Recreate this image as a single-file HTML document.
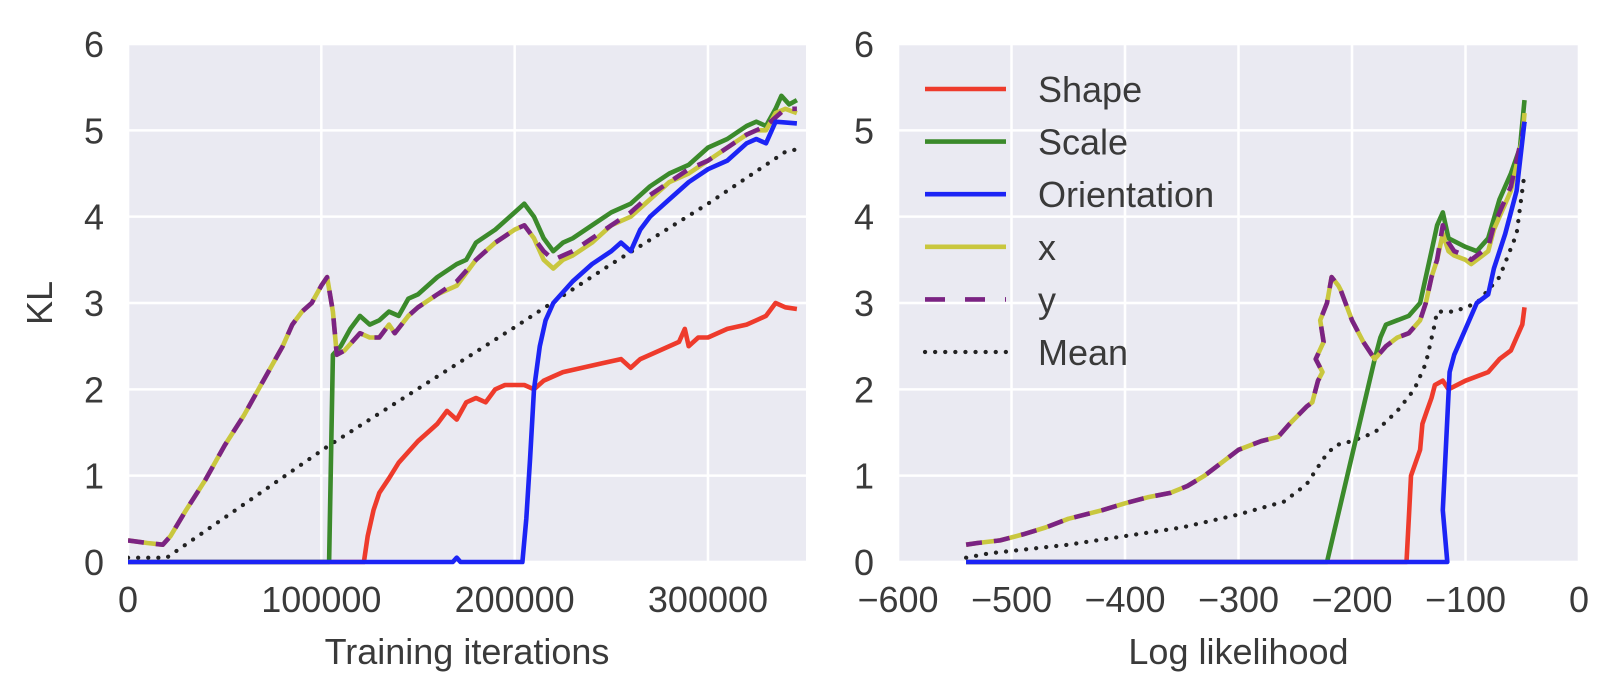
<!DOCTYPE html>
<html><head><meta charset="utf-8"><style>
html,body{margin:0;padding:0;background:#fff;}
svg{display:block;font-family:"Liberation Sans","DejaVu Sans",sans-serif;}
</style></head><body>
<svg id="chart" width="1610" height="680" viewBox="0 0 1610 680"></svg>
<script>
// ---- Left panel data (x in iterations) ----
const L_shape_x=[0,122000,124000,127000,130000,135000,140000,150000,155000,160000,165000,170000,175000,180000,185000,190000,195000,205000,210000,215000,220000,225000,235000,245000,255000,260000,265000,275000,285000,288000,290000,295000,300000,310000,320000,325000,330000,335000,340000,346000];
const L_shape_y=[0,0,0.3,0.6,0.8,0.97,1.15,1.4,1.5,1.6,1.75,1.65,1.85,1.9,1.85,2.0,2.05,2.05,2.0,2.1,2.15,2.2,2.25,2.3,2.35,2.25,2.35,2.45,2.55,2.7,2.5,2.6,2.6,2.7,2.75,2.8,2.85,3.0,2.95,2.93];
const L_scale_x=[0,104000,106000,110000,115000,120000,125000,130000,135000,140000,145000,150000,160000,170000,175000,180000,190000,200000,205000,210000,215000,220000,225000,230000,240000,250000,260000,270000,280000,290000,300000,310000,320000,325000,330000,335000,338000,342000,346000];
const L_scale_y=[0,0,2.4,2.5,2.7,2.85,2.75,2.8,2.9,2.85,3.05,3.1,3.3,3.45,3.5,3.7,3.85,4.05,4.15,4.0,3.75,3.6,3.7,3.75,3.9,4.05,4.15,4.35,4.5,4.6,4.8,4.9,5.05,5.1,5.05,5.25,5.4,5.3,5.35];
const L_orient_x=[0,168000,170000,172000,204000,206000,208000,210000,213000,216000,220000,230000,240000,250000,255000,260000,265000,270000,280000,290000,300000,310000,320000,325000,330000,335000,346000];
const L_orient_y=[0,0,0.05,0,0,0.5,1.2,2.0,2.5,2.8,3.0,3.25,3.45,3.6,3.7,3.6,3.85,4.0,4.2,4.4,4.55,4.65,4.85,4.9,4.85,5.1,5.08];
const L_x_x=[0,10000,18000,22000,30000,40000,50000,60000,70000,80000,85000,90000,95000,100000,103000,106000,108000,112000,120000,125000,130000,135000,138000,145000,150000,160000,170000,180000,190000,200000,205000,210000,215000,220000,225000,230000,240000,250000,260000,270000,280000,290000,300000,310000,320000,325000,330000,335000,340000,346000];
const L_x_y=[0.25,0.22,0.2,0.3,0.6,0.95,1.35,1.7,2.1,2.5,2.75,2.9,3.0,3.2,3.3,2.9,2.4,2.45,2.65,2.6,2.6,2.75,2.65,2.85,2.95,3.1,3.2,3.5,3.7,3.85,3.9,3.75,3.5,3.4,3.5,3.55,3.7,3.9,4.0,4.2,4.4,4.5,4.65,4.8,4.95,5.0,5.0,5.2,5.25,5.2];
const L_y_y=[0.25,0.22,0.2,0.3,0.6,0.95,1.35,1.7,2.1,2.5,2.75,2.9,3.0,3.2,3.3,2.9,2.4,2.45,2.65,2.6,2.6,2.75,2.65,2.85,2.95,3.1,3.25,3.5,3.7,3.85,3.9,3.75,3.6,3.5,3.55,3.6,3.75,3.9,4.05,4.25,4.4,4.55,4.65,4.8,4.95,5.0,5.05,5.15,5.25,5.25];
const L_mean_x=[0,20000,104000,200000,250000,300000,340000,346000];
const L_mean_y=[0.05,0.05,1.35,2.72,3.45,4.15,4.75,4.78];
// ---- Right panel data (x = log likelihood) ----
const R_shape_x=[-540,-152,-150,-148,-140,-138,-134,-130,-127,-120,-115,-100,-80,-70,-60,-55,-50,-48];
const R_shape_y=[0,0,0.5,1.0,1.3,1.6,1.75,1.9,2.05,2.1,2.0,2.1,2.2,2.35,2.45,2.6,2.75,2.95];
const R_scale_x=[-540,-222,-180,-175,-170,-150,-140,-135,-130,-125,-120,-115,-100,-90,-80,-70,-60,-52,-48];
const R_scale_y=[0,0,2.35,2.6,2.75,2.85,3.0,3.3,3.6,3.9,4.05,3.75,3.65,3.6,3.75,4.2,4.5,4.8,5.35];
const R_orient_x=[-540,-116,-120,-114,-110,-100,-90,-80,-75,-65,-55,-48];
const R_orient_y=[0,0,0.6,2.2,2.4,2.7,3.0,3.1,3.4,3.8,4.3,5.1];
const R_x_x=[-540,-530,-510,-490,-470,-450,-420,-400,-380,-360,-345,-330,-310,-300,-280,-265,-255,-240,-235,-230,-226,-232,-225,-228,-222,-218,-212,-210,-200,-190,-180,-170,-160,-150,-140,-135,-130,-125,-120,-115,-110,-100,-95,-85,-80,-75,-70,-60,-55,-50,-48];
const R_x_y=[0.2,0.22,0.25,0.32,0.4,0.5,0.6,0.68,0.75,0.8,0.88,1.0,1.2,1.3,1.4,1.45,1.6,1.8,1.85,2.1,2.2,2.35,2.55,2.8,3.0,3.3,3.2,3.15,2.8,2.55,2.35,2.5,2.6,2.65,2.8,3.0,3.3,3.5,3.8,3.6,3.55,3.5,3.45,3.55,3.6,3.85,4.0,4.3,4.6,4.9,5.2];
const R_y_y=[0.2,0.22,0.25,0.32,0.4,0.5,0.6,0.68,0.75,0.8,0.88,1.0,1.2,1.3,1.4,1.45,1.6,1.8,1.85,2.1,2.2,2.35,2.55,2.8,3.0,3.3,3.2,3.15,2.8,2.55,2.35,2.5,2.6,2.65,2.8,3.0,3.3,3.5,3.9,3.7,3.6,3.55,3.5,3.6,3.65,3.9,4.05,4.35,4.65,4.95,5.1];
const R_mean_x=[-540,-520,-450,-400,-350,-300,-260,-240,-225,-215,-200,-180,-160,-145,-135,-128,-125,-110,-90,-70,-55,-48];
const R_mean_y=[0.05,0.1,0.2,0.3,0.4,0.55,0.7,0.9,1.2,1.35,1.4,1.5,1.75,2.0,2.3,2.7,2.9,2.9,3.0,3.3,3.8,4.5];
const yTicks=[0,1,2,3,4,5,6];
const L_xTicks=[0,100000,200000,300000];
const L_xTickLabels=["0","100000","200000","300000"];
const R_xTicks=[-600,-500,-400,-300,-200,-100,0];
const R_xTickLabels=["\u2212600","\u2212500","\u2212400","\u2212300","\u2212200","\u2212100","0"];
const legendLabels=["Shape","Scale","Orientation","x","y","Mean"];

const NS="http://www.w3.org/2000/svg";
const svg=document.getElementById('chart');
function mk(tag,attrs,parent){const e=document.createElementNS(NS,tag);for(const k in attrs)e.setAttribute(k,attrs[k]);(parent||svg).appendChild(e);return e;}
const TOP=44,BOT=562;
const FS=36;
function yS(v){return BOT-(v/6)*(BOT-TOP);}
const panels={
  left:{x0:128,x1:806,min:0,max:350700},
  right:{x0:898,x1:1579,min:-600,max:0}
};
function xS(p,v){return p.x0+(v-p.min)/(p.max-p.min)*(p.x1-p.x0);}
const styles={
 shape:{stroke:"#ee3b2c",dash:null},
 scale:{stroke:"#3b8a2b",dash:null},
 orient:{stroke:"#1c24f5",dash:null},
 x:{stroke:"#c9c73e",dash:null},
 y:{stroke:"#7b2383",dash:"16,12"},
 mean:{stroke:"#222",dash:"0.1,10"}
};
function drawPanel(key,xTicks,xLabels,title,series){
  const p=panels[key];
  const g=mk('g',{});
  
  
  const bg=mk('rect',{x:p.x0,y:TOP,width:p.x1-p.x0,height:BOT-TOP,fill:"#eaeaf2"},g);
  
  
  yTicks.forEach(t=>{
    const ln=mk('line',{x1:p.x0,x2:p.x1,y1:yS(t),y2:yS(t),stroke:"#fff","stroke-width":2.5},g);
    
    
    const tx=mk('text',{x:p.x0-24,y:yS(t)+13,"text-anchor":"end","font-size":FS,fill:"#3a3a3a"},g);
    tx.textContent=String(t);
    
    
  });
  xTicks.forEach((t,i)=>{
    const x=xS(p,t);
    const ln=mk('line',{x1:x,x2:x,y1:TOP,y2:BOT,stroke:"#fff","stroke-width":2.5},g);
    
    
    const tx=mk('text',{x:x,y:612,"text-anchor":"middle","font-size":FS,fill:"#3a3a3a"},g);
    tx.textContent=xLabels[i];
    
    
  });
  const tt=mk('text',{x:(p.x0+p.x1)/2,y:664,"text-anchor":"middle","font-size":FS,fill:"#3a3a3a"},g);
  tt.textContent=title;
  
  
  const clip=mk('clipPath',{id:'clip-'+key},g);
  mk('rect',{x:p.x0,y:TOP-4,width:p.x1-p.x0,height:BOT-TOP+8},clip);
  series.forEach(s=>{
    const st=styles[s.name];
    const d=s.xs.map((v,i)=>(i?'L':'M')+xS(p,v).toFixed(1)+','+yS(s.ys[i]).toFixed(1)).join('');
    const path=mk('path',{d:d,fill:"none",stroke:st.stroke,"stroke-width":s.name==='mean'?4.2:4.6,"stroke-linejoin":"round","stroke-linecap":s.name==='mean'?"round":"butt","clip-path":"url(#clip-"+key+")"},g);
    if(st.dash)path.setAttribute('stroke-dasharray',st.dash);
    
    
  });
}
drawPanel('left',L_xTicks,L_xTickLabels,'Training iterations',[
 {name:'mean',xs:L_mean_x,ys:L_mean_y},
 {name:'shape',xs:L_shape_x,ys:L_shape_y},
 {name:'scale',xs:L_scale_x,ys:L_scale_y},
 {name:'x',xs:L_x_x,ys:L_x_y},
 {name:'y',xs:L_x_x,ys:L_y_y},
 {name:'orient',xs:L_orient_x,ys:L_orient_y}
]);
drawPanel('right',R_xTicks,R_xTickLabels,'Log likelihood',[
 {name:'mean',xs:R_mean_x,ys:R_mean_y},
 {name:'shape',xs:R_shape_x,ys:R_shape_y},
 {name:'scale',xs:R_scale_x,ys:R_scale_y},
 {name:'x',xs:R_x_x,ys:R_x_y},
 {name:'y',xs:R_x_x,ys:R_y_y},
 {name:'orient',xs:R_orient_x,ys:R_orient_y}
]);
const kl=mk('text',{x:0,y:0,"text-anchor":"middle","font-size":FS,fill:"#3a3a3a",transform:"translate(52,303) rotate(-90)"});
kl.textContent="KL";


// legend
const lg=mk('g',{});


const legKeys=['shape','scale','orient','x','y','mean'];
legendLabels.forEach((lab,i)=>{
  const cy=89+i*52.6;
  const st=styles[legKeys[i]];
  const ln=mk('line',{x1:925,x2:1006,y1:cy,y2:cy,stroke:st.stroke,"stroke-width":legKeys[i]==='mean'?4.2:4.6,"stroke-linecap":legKeys[i]==='mean'?"round":"butt"},lg);
  if(legKeys[i]==='y')ln.setAttribute('stroke-dasharray','20,20');
  else if(st.dash)ln.setAttribute('stroke-dasharray',st.dash);
  
  
  const tx=mk('text',{x:1038,y:cy+13,"font-size":FS,fill:"#3a3a3a"},lg);
  tx.textContent=lab;
  
  
});
</script>
</body></html>
